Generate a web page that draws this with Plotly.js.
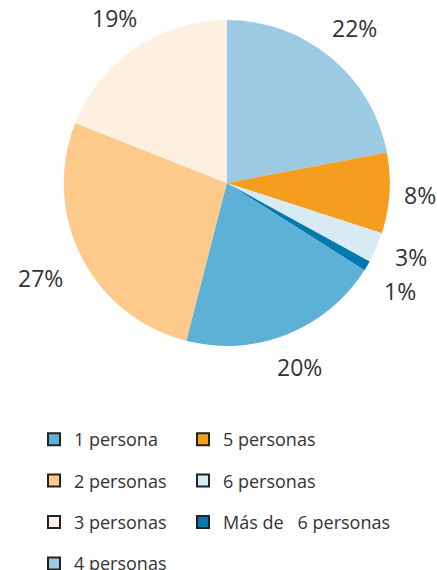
<!DOCTYPE html>
<html>
<head>
<meta charset="utf-8">
<script src="https://cdn.plot.ly/plotly-3.0.1.min.js"></script>
<style>html,body{margin:0;padding:0;background:#fff;}#chart{width:437px;height:570px;}</style>
</head>
<body>
<div id="chart"></div>
<script>
// Slice order, clockwise from 12 o'clock
const sliceLabels = ["4 personas", "5 personas", "6 personas", "Más de   6 personas", "1 persona", "2 personas", "3 personas"];
const sliceValues = [22, 8, 3, 1, 20, 27, 19];
const sliceColors = ["#9ccae2", "#f59d1f", "#d8eaf4", "#0079ac", "#5db1d6", "#fdca8c", "#fef0e1"];
// Legend columns
const legendLeft = ["1 persona", "2 personas", "3 personas", "4 personas"];
const legendRight = ["5 personas", "6 personas", "Más de   6 personas"];

const W = 437, H = 570;
const domX = [0.146, 0.892], domY = [0.393, 0.965];
const FONT = "Open Sans, Noto Sans, sans-serif";
const TXT = "#333333";
const LABEL_SIZE = 23;

const colorOf = {};
sliceLabels.forEach((l, i) => colorOf[l] = sliceColors[i]);

const traces = [{
  type: "pie",
  labels: sliceLabels,
  values: sliceValues,
  marker: {colors: sliceColors, line: {width: 0}},
  sort: false,
  direction: "clockwise",
  rotation: 0,
  textinfo: "none",
  hoverinfo: "label+percent",
  showlegend: false,
  automargin: false,
  domain: {x: domX, y: domY}
}];

function legendTrace(label, legendId) {
  return {
    type: "scatter", mode: "markers", x: [null], y: [null],
    name: label, legendgroup: label, legend: legendId,
    marker: {symbol: "square", size: 12, color: colorOf[label], line: {color: "#222222", width: 2}},
    showlegend: true, hoverinfo: "skip"
  };
}
legendLeft.forEach(l => traces.push(legendTrace(l, "legend")));
legendRight.forEach(l => traces.push(legendTrace(l, "legend2")));

// percentage labels placed outside each slice, along its mid-angle
const total = sliceValues.reduce((a, b) => a + b, 0);
const cxPx = (domX[0] + domX[1]) / 2 * W;
const cyPx = (1 - (domY[0] + domY[1]) / 2) * H;
const R = Math.min((domX[1] - domX[0]) * W, (domY[1] - domY[0]) * H) / 2;
const boxes = [];
let cum = 0;
sliceValues.forEach(v => {
  const mid = (cum + v / 2) / total * 2 * Math.PI;
  cum += v;
  const txt = Math.round(v / total * 100) + "%";
  const bw = txt.length * LABEL_SIZE * 0.62, bh = LABEL_SIZE * 1.05;
  const s = Math.abs(Math.sin(mid)), c = Math.abs(Math.cos(mid));
  const ext = Math.min(s > 1e-6 ? bw / 2 / s : 1e9, c > 1e-6 ? bh / 2 / c : 1e9);
  const r = R + 22 + ext;
  let px = cxPx + r * Math.sin(mid);
  let py = cyPx - r * Math.cos(mid);
  px = Math.max(bw / 2 + 3, Math.min(W - bw / 2 - 3, px));
  boxes.push({txt, px, py, bw, bh});
});
// simple collision resolution between neighbouring labels
for (let i = 0; i < boxes.length - 1; i++) {
  const a = boxes[i], b = boxes[i + 1];
  const needY = (a.bh + b.bh) / 2 * 1.38;
  const overlapX = Math.abs(a.px - b.px) < (a.bw + b.bw) / 2;
  const dy = Math.abs(a.py - b.py);
  if (overlapX && dy < needY) {
    const push = (needY - dy) / 2;
    if (a.py <= b.py) { a.py -= push; b.py += push; } else { a.py += push; b.py -= push; }
  }
}
const annotations = boxes.map(bx => ({
  xref: "paper", yref: "paper", x: bx.px / W, y: 1 - bx.py / H,
  text: bx.txt, showarrow: false,
  font: {family: FONT, size: LABEL_SIZE, color: TXT}, xanchor: "center", yanchor: "middle"
}));

const legendCommon = {
  orientation: "v", bgcolor: "rgba(0,0,0,0)", borderwidth: 0,
  font: {family: FONT, size: 18, color: TXT},
  tracegroupgap: 15, xanchor: "left", yanchor: "top",
  itemclick: false, itemdoubleclick: false
};

const layout = {
  width: W, height: H,
  margin: {l: 0, r: 0, t: 0, b: 0, autoexpand: false},
  paper_bgcolor: "#ffffff", plot_bgcolor: "#ffffff",
  xaxis: {visible: false}, yaxis: {visible: false},
  showlegend: true,
  legend: Object.assign({}, legendCommon, {x: 34 / W, y: 1 - 421 / H}),
  legend2: Object.assign({}, legendCommon, {x: 183 / W, y: 1 - 421 / H}),
  annotations: annotations
};

Plotly.newPlot("chart", traces, layout, {displayModeBar: false, staticPlot: true});
</script>
</body>
</html>
